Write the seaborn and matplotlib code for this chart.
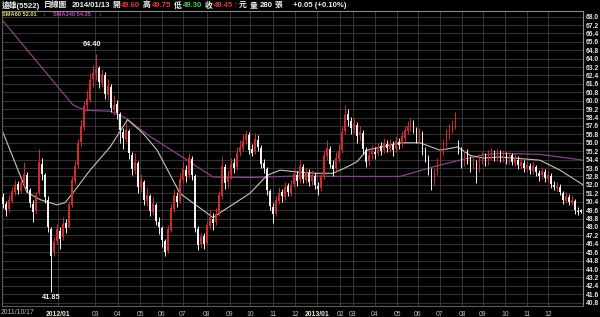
import numpy as np
import pandas as pd
import matplotlib
matplotlib.use("Agg")
import matplotlib.pyplot as plt
import seaborn as sns

# ---------------- data ----------------
open_ = [50.8, 50.2, 49.7, 50.5, 51.3, 52.1, 51.4, 52.1, 52.9, 51.5,
         50.2, 49.5, 51.2, 54.0, 52.9, 50.6, 47.8, 45.6, 46.7, 47.6,
         47.0, 48.4, 48.0, 50.1, 52.4, 53.9, 56.1, 57.5, 59.6, 60.1,
         62.1, 62.5, 63.1, 61.7, 62.4, 60.5, 61.3, 59.2, 59.7, 58.7,
         57.0, 56.4, 57.1, 54.8, 53.4, 54.1, 51.7, 52.3, 50.5, 50.9,
         49.4, 50.1, 48.5, 47.9, 46.7, 45.7, 47.7, 49.7, 50.9, 50.5,
         52.5, 53.4, 52.9, 54.5, 52.8, 47.8, 46.4, 47.1, 46.5, 48.1,
         48.8, 48.5, 49.3, 50.9, 53.7, 52.3, 52.9, 54.1, 53.7, 55.1,
         55.5, 56.3, 56.7, 55.4, 55.1, 56.3, 55.5, 54.1, 53.5, 51.4,
         49.9, 49.3, 50.5, 51.3, 50.8, 51.9, 51.2, 52.1, 52.9, 52.5,
         53.7, 52.5, 53.1, 52.4, 52.8, 51.9, 51.7, 52.9, 54.7, 55.4,
         53.9, 53.6, 54.5, 55.3, 57.1, 58.7, 58.1, 57.3, 57.7, 56.7,
         56.9, 55.3, 54.3, 54.9, 55.1, 55.0, 55.7, 55.3, 55.9, 55.4,
         55.8, 55.4, 56.1, 55.9, 56.5, 57.1, 57.5, 57.9, 57.3, 56.5,
         56.9, 55.1, 54.5, 53.3, 52.3, 53.1, 54.1, 55.1, 55.9, 56.7,
         57.3, 57.5, 56.0, 55.3, 54.1, 54.9, 54.4, 53.9, 54.1, 53.5,
         54.3, 54.7, 54.1, 54.8, 55.0, 54.6, 55.1, 54.5, 54.8, 54.3,
         54.8, 54.1, 54.4, 53.8, 54.1, 53.5, 53.8, 53.3, 53.7, 53.1,
         52.9, 53.2, 52.6, 52.8, 52.0, 51.7, 51.8, 51.2, 50.5, 50.8,
         50.3, 50.5, 49.5, 49.60]
high = [51.2, 50.5, 51.0, 51.8, 52.5, 52.4, 52.6, 54.2, 53.2, 51.7,
        50.6, 51.3, 55.4, 54.6, 53.1, 50.9, 48.0, 47.0, 48.3, 48.0,
        48.9, 48.8, 50.5, 52.8, 54.3, 56.4, 58.2, 60.0, 61.0, 62.6,
        63.4, 64.4, 63.3, 63.0, 62.7, 62.1, 61.6, 60.5, 60.1, 58.9,
        57.4, 57.9, 57.3, 55.1, 55.0, 54.3, 53.0, 52.5, 51.8, 51.1,
        50.8, 50.3, 48.9, 48.1, 46.9, 48.2, 50.2, 51.6, 51.3, 53.1,
        54.3, 53.9, 55.0, 54.7, 53.0, 48.1, 47.4, 47.4, 48.6, 49.6,
        49.3, 49.8, 51.4, 54.7, 54.0, 53.4, 54.6, 54.6, 55.6, 56.3,
        56.8, 57.2, 57.0, 55.9, 56.9, 56.7, 55.8, 54.5, 53.7, 51.6,
        50.3, 50.9, 51.8, 51.6, 52.3, 52.2, 52.5, 53.5, 53.3, 54.4,
        54.0, 53.7, 53.5, 53.4, 53.1, 52.3, 53.2, 55.3, 56.3, 55.7,
        54.4, 55.1, 55.9, 57.6, 59.6, 59.2, 58.5, 58.4, 58.0, 57.6,
        57.2, 55.6, 55.5, 55.8, 55.6, 56.0, 56.1, 56.5, 56.3, 56.4,
        56.2, 56.6, 56.5, 57.1, 57.6, 58.1, 58.4, 58.2, 57.5, 57.4,
        57.1, 55.6, 54.8, 53.6, 53.5, 54.6, 55.5, 56.4, 57.3, 57.8,
        58.2, 58.9, 56.3, 55.6, 55.3, 55.4, 54.7, 54.8, 54.4, 54.9,
        55.1, 55.0, 55.3, 55.5, 55.3, 55.4, 55.3, 55.3, 55.1, 55.1,
        55.0, 54.9, 54.7, 54.6, 54.4, 54.3, 54.1, 54.2, 53.9, 53.4,
        53.7, 53.5, 53.3, 53.1, 52.4, 52.3, 52.1, 51.4, 51.3, 51.1,
        51.0, 50.7, 49.9, 49.75]
low = [49.8, 49.0, 49.4, 50.3, 51.0, 51.1, 51.2, 51.9, 51.3, 49.9,
       48.5, 49.2, 51.0, 52.5, 50.3, 47.5, 41.85, 45.2, 46.4, 45.9,
       46.8, 47.4, 47.9, 49.9, 52.1, 53.6, 55.7, 57.2, 59.0, 59.9,
       61.3, 62.0, 61.2, 61.3, 60.2, 60.1, 58.9, 58.6, 58.3, 56.0,
       55.4, 56.1, 54.5, 52.9, 53.0, 51.2, 51.3, 50.1, 50.0, 49.0,
       49.1, 48.2, 47.3, 46.1, 45.2, 45.5, 47.5, 49.4, 49.9, 50.3,
       52.2, 52.3, 52.7, 52.5, 47.5, 45.8, 46.0, 45.9, 46.3, 47.8,
       47.7, 48.2, 49.0, 50.7, 51.6, 51.7, 52.6, 53.1, 53.4, 54.7,
       55.2, 55.9, 54.9, 54.7, 54.9, 55.2, 53.6, 53.1, 51.0, 49.6,
       48.4, 49.0, 50.2, 50.4, 50.6, 50.9, 50.9, 51.8, 51.9, 52.2,
       52.2, 52.2, 51.9, 52.0, 51.6, 51.0, 51.4, 52.6, 54.4, 53.6,
       52.8, 53.3, 54.2, 55.0, 56.8, 57.6, 56.8, 56.9, 56.0, 56.2,
       54.9, 53.7, 53.9, 54.5, 54.5, 54.7, 54.8, 55.0, 55.1, 55.1,
       54.7, 55.1, 55.4, 55.6, 56.2, 56.8, 57.1, 56.9, 56.0, 56.1,
       54.8, 54.2, 52.9, 51.5, 52.0, 52.9, 53.9, 54.8, 55.6, 56.4,
       56.9, 57.3, 54.9, 53.6, 53.8, 54.0, 53.2, 53.5, 52.2, 53.2,
       54.0, 53.8, 53.9, 54.5, 54.3, 54.3, 54.2, 54.2, 54.0, 54.0,
       53.9, 53.8, 53.5, 53.5, 53.2, 53.2, 53.0, 53.0, 52.8, 52.4,
       52.6, 52.3, 52.3, 51.7, 51.5, 51.4, 51.0, 50.2, 50.3, 50.1,
       50.1, 49.2, 49.1, 49.30]
close = [50.2, 49.6, 50.6, 51.4, 52.0, 51.5, 52.2, 53.0, 51.6, 50.3,
         49.4, 51.0, 54.2, 53.0, 50.8, 48.0, 45.2, 46.6, 47.8, 46.9,
         48.3, 47.9, 50.2, 52.5, 53.8, 56.0, 57.6, 59.5, 60.2, 62.0,
         62.6, 63.0, 61.8, 62.5, 60.6, 61.4, 59.3, 59.6, 58.8, 57.2,
         56.5, 57.2, 55.0, 53.5, 54.2, 51.8, 52.4, 50.6, 51.0, 49.5,
         50.2, 48.6, 48.0, 46.8, 45.6, 47.8, 49.8, 51.0, 50.4, 52.6,
         53.5, 52.8, 54.6, 52.9, 47.9, 46.3, 47.0, 46.4, 48.2, 48.9,
         48.4, 49.2, 51.0, 53.8, 52.2, 52.8, 54.0, 53.6, 55.0, 55.6,
         56.2, 56.8, 55.3, 55.0, 56.4, 55.6, 54.0, 53.6, 51.5, 50.0,
         49.2, 50.6, 51.2, 50.9, 51.8, 51.3, 52.0, 53.0, 52.4, 53.8,
         52.6, 53.2, 52.3, 52.9, 52.0, 51.6, 52.8, 54.8, 55.5, 54.0,
         53.5, 54.6, 55.2, 57.0, 58.6, 58.2, 57.4, 57.8, 56.6, 57.0,
         55.4, 54.2, 54.8, 55.2, 54.9, 55.6, 55.2, 56.0, 55.5, 55.9,
         55.3, 56.2, 55.8, 56.6, 57.2, 57.6, 58.0, 57.4, 56.4, 57.0,
         55.2, 54.6, 53.4, 52.2, 53.0, 54.2, 55.0, 55.8, 56.8, 57.2,
         57.6, 58.6, 55.4, 54.0, 54.8, 54.5, 53.8, 54.2, 53.4, 54.4,
         54.6, 54.2, 54.9, 55.1, 54.7, 55.0, 54.6, 54.9, 54.4, 54.7,
         54.2, 54.5, 53.9, 54.2, 53.6, 53.9, 53.4, 53.8, 53.2, 52.8,
         53.3, 52.7, 52.9, 52.1, 51.8, 51.9, 51.3, 50.6, 50.9, 50.4,
         50.6, 49.6, 49.4, 49.45]

sma60_idx = [-0.4, 2.3, 7.9, 12.3, 17.9, 20.6, 24.0, 29.0, 35.7, 41.5,
             46.7, 51.4, 59.0, 70.0, 82.4, 88.1, 92.4, 99.1, 104.8, 110.1,
             114.8, 118.1, 121.5, 132.5, 139.2, 145.8, 151.8, 155.9, 160.2,
             165.9, 179.2, 185.9, 193.6]
sma60_val = [57.2, 55.3, 51.3, 50.6, 50.1, 50.3, 51.5, 53.4, 55.6, 58.2,
             56.9, 55.3, 51.2, 48.9, 51.2, 52.9, 53.4, 53.2, 53.1, 53.1,
             53.7, 54.2, 55.3, 56.0, 56.0, 55.3, 55.6, 54.8, 54.55,
             54.65, 54.35, 53.4, 52.01]

sma240_idx = [-0.4, 23.3, 27.3, 35.7, 40.7, 49.0, 59.0, 70.0, 82.4, 99.1,
              115.8, 132.5, 143.5, 152.5, 160.2, 165.9, 179.2, 193.6]
sma240_val = [67.7, 59.6, 59.1, 59.0, 58.4, 56.6, 54.8, 52.75, 52.7, 52.85,
              52.8, 52.8, 53.7, 54.35, 54.85, 55.0, 54.9, 54.35]

tick_idx = [18.3, 30.7, 38.3, 45.7, 53.0, 60.0, 68.0, 75.7, 82.4, 90.1,
            97.4, 104.8, 112.5, 116.8, 124.1, 131.5, 138.5, 145.8, 153.2,
            160.2, 167.5, 174.9, 181.9]
tick_labels = ["2012/01", "03", "04", "05", "06", "07", "08", "09", "10",
               "11", "12", "2013/01", "02", "03", "04", "05", "06", "07",
               "08", "09", "10", "11", "12"]
first_label = "2011/10/17"
y_ticks = [40.8, 41.6, 42.4, 43.2, 44.0, 44.8, 45.6, 46.4, 47.2, 48.0,
           48.8, 49.6, 50.4, 51.2, 52.0, 52.8, 53.6, 54.4, 55.2, 56.0,
           56.8, 57.6, 58.4, 59.2, 60.0, 60.8, 61.6, 62.4, 63.2, 64.0,
           64.8, 65.6, 66.4, 67.2, 68.0]
max_label = ("64.40", 31, 64.4)
min_label = ("41.85", 16, 41.85)

# ---------------- style ----------------
sns.set_theme(style="dark")
FAM = ['Liberation Sans', 'Noto Sans CJK TC', 'DejaVu Sans']
plt.rcParams['font.family'] = FAM
plt.rcParams['axes.unicode_minus'] = False

W, H = 600, 317
fig = plt.figure(figsize=(W / 100, H / 100), dpi=100, facecolor='black')
ax_top, ax_bot = 10.7, 305.5
ax = fig.add_axes([2 / W, 1 - ax_bot / H, 581 / W, (ax_bot - ax_top) / H])
ax.set_facecolor('black')

df = pd.DataFrame({"i": np.arange(len(close)), "o": open_, "h": high,
                   "l": low, "c": close})
up = df.c >= df.o
cols = np.where(up, '#d42a2a', '#f2f2f2')
body_lo = np.minimum(df.o, df.c)
body_h = np.maximum((df.c - df.o).abs(), 0.06)

ax.vlines(df.i, df.l, df.h, colors=cols, linewidth=0.7, zorder=3)
ax.bar(df.i, body_h, bottom=body_lo, width=0.55, color=cols, linewidth=0,
       zorder=4)

sns.lineplot(x=sma240_idx, y=sma240_val, ax=ax, color='#8e3e8e',
             linewidth=0.9, zorder=2)
sns.lineplot(x=sma60_idx, y=sma60_val, ax=ax, color='#c9c6b4',
             linewidth=0.8, zorder=2)

ax.set_xlim(-0.4, 193.6)
ax.set_ylim(40.53, 68.56)

ax.set_yticks(y_ticks)
ax.set_yticklabels([f"{v:.1f}" for v in y_ticks])
ax.yaxis.tick_right()
ax.tick_params(axis='y', length=0, pad=2, labelsize=4.9, labelcolor='#e6e6e6')
for t in ax.get_yticklabels():
    t.set_fontweight('bold')

ax.set_xticks(tick_idx)
ax.set_xticklabels(tick_labels)
ax.tick_params(axis='x', length=2.5, width=0.6, color='#6a6a6a', pad=1.2,
               labelsize=4.9, labelcolor='#bdbdbd', direction='out')
for t in ax.get_xticklabels():
    if '/' in t.get_text():
        t.set_color('#f0f0d0')
        t.set_fontweight('bold')

ax.grid(True, axis='both', color='#3e3e3e', linewidth=0.6)
ax.axvline(-0.4, color='#5a5a5a', linewidth=0.8)
for s in ['left', 'bottom']:
    ax.spines[s].set_color('#5a5a5a')
    ax.spines[s].set_linewidth(0.8)
for s in ['top', 'right']:
    ax.spines[s].set_color('#8a8a8a')
    ax.spines[s].set_linewidth(0.8)

fig.text(1 / W, 1 - 312.3 / H, first_label, fontsize=4.9, color='#bdbdbd',
         ha='left', va='center')

ax.annotate(max_label[0], (max_label[1], max_label[2]), xytext=(-3, 5),
            textcoords='offset points', ha='center', va='bottom',
            fontsize=5.3, color='#f0f0f0', fontweight='bold')
ax.annotate(min_label[0], (min_label[1], min_label[2]), xytext=(0, -1.5),
            textcoords='offset points', ha='center', va='top',
            fontsize=5.3, color='#f0f0f0', fontweight='bold')

# ---------------- header ----------------
fig.canvas.draw()
rend = fig.canvas.get_renderer()


def place_row(items, ypix, size):
    prev_end = -10
    for xref, s, c, gap in items:
        xx = max(xref, prev_end + gap)
        t = fig.text(xx / W, 1 - ypix / H, s, fontsize=size, color=c,
                     ha='left', va='center', fontweight='bold')
        bb = t.get_window_extent(renderer=rend)
        prev_end = bb.x1


WH = '#f0f0f0'
RD = '#e23a3a'
GN = '#3cd23c'
header = [
    (2, "遠雄(5522)", WH, 2), (37, "日線圖", WH, 4),
    (62, "2014/01/13", WH, 4), (110, "開", WH, 2),
    (117, "49.60", RD, 1), (142, "高", WH, 3),
    (150, "49.75", RD, 1), (173, "低", WH, 3),
    (180, "49.30", GN, 1), (203, "收", WH, 3),
    (210, "49.45", RD, 1), (231, "↑", RD, 1),
    (235, "元", WH, 1), (247, "量", WH, 3),
    (255, "280", WH, 2), (268, "張", WH, 2),
    (293, "+0.05 (+0.10%)", WH, 4),
]
place_row(header, 5.5, 5.6)

sma_row = [
    (2, "SMA60 52.01", '#e6e070', 0), (42, "↓", GN, 1),
    (53, "SMA240 54.35", '#c448c4', 4), (98, "↓", GN, 1),
]
place_row(sma_row, 14.5, 4.1)

fig.savefig("out.png", dpi=100, facecolor='black')
